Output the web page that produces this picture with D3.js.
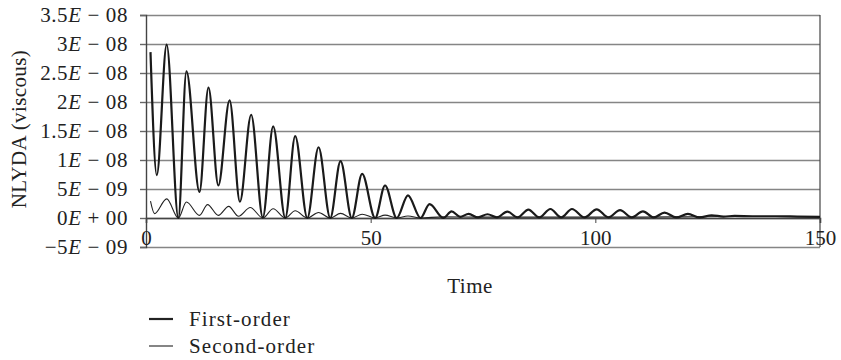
<!DOCTYPE html>
<html>
<head>
<meta charset="utf-8">
<script src="https://cdn.jsdelivr.net/npm/d3@7"></script>
<style>
  body { margin: 0; background: #fff; }
  text { font-family: "Liberation Serif", "DejaVu Serif", serif; fill: #222; }
</style>
</head>
<body>
<div id="chart"></div>
<script>
// first-order response, key points
const firstTime = [1, 2.4, 4.6, 7.2, 9.0, 11.9, 13.9, 16.1, 18.6, 20.9, 23.4, 26.0, 28.3, 31.0, 33.2, 35.9,
  38.4, 41.0, 43.3, 45.8, 48.1, 51.0, 53.2, 55.8, 58.3, 61.1, 63.1, 66.2, 68.0, 69.9, 71.8, 73.9, 76.0,
  78.1, 80.4, 82.7, 85.1, 87.5, 90.0, 92.4, 94.8, 97.6, 100.3, 102.9, 105.5, 108.1, 110.6, 113.0, 115.4,
  118.0, 120.6, 123.2, 125.9, 128.5, 131, 135, 140, 145, 150];
const firstValue = [28.6e-9, 7.4e-9, 29.9e-9, 0, 25.3e-9, 4.5e-9, 22.5e-9, 5.6e-9, 20.3e-9, 2.8e-9, 17.8e-9,
  0.1e-9, 15.8e-9, 0, 14.1e-9, 0, 12.2e-9, 0, 9.8e-9, 0, 7.6e-9, 0, 5.6e-9, 0, 3.9e-9, 0, 2.4e-9, 0,
  1.15e-9, 0.2e-9, 0.7e-9, 0.1e-9, 0.65e-9, 0.1e-9, 1.1e-9, 0.1e-9, 1.45e-9, 0.1e-9, 1.55e-9, 0.1e-9,
  1.55e-9, 0.1e-9, 1.5e-9, 0.1e-9, 1.35e-9, 0.1e-9, 1.15e-9, 0.1e-9, 0.93e-9, 0.1e-9, 0.7e-9, 0.1e-9,
  0.47e-9, 0.25e-9, 0.35e-9, 0.3e-9, 0.3e-9, 0.25e-9, 0.2e-9];

// second-order response
const secondTime = [1, 1.9, 4.6, 7.2, 9.0, 11.9, 13.7, 16.1, 18.4, 20.6, 23.2, 26.0, 28.3, 31.0, 33.2, 35.9,
  38.4, 41.0, 43.3, 45.8, 48.1, 51.0, 53.2, 55.8, 58.3, 61.1, 66, 75, 90, 100, 110, 120, 130, 140, 150];
const secondValue = [2.9e-9, 0.75e-9, 3.3e-9, 0, 2.75e-9, 0.45e-9, 2.3e-9, 0.45e-9, 2.0e-9, 0.3e-9, 1.8e-9,
  0, 1.6e-9, 0, 1.25e-9, 0, 0.95e-9, 0, 0.8e-9, 0, 0.65e-9, 0, 0.5e-9, 0, 0.35e-9, 0, 0.2e-9, 0.15e-9,
  0.15e-9, 0.15e-9, 0.15e-9, 0.2e-9, 0.25e-9, 0.25e-9, 0.2e-9];

const xTicks = [0, 50, 100, 150];
const yTicks = [3.5e-8, 3e-8, 2.5e-8, 2e-8, 1.5e-8, 1e-8, 5e-9, 0, -5e-9];
const yTickLabels = ['3.5E − 08', '3E − 08', '2.5E − 08', '2E − 08', '1.5E − 08', '1E − 08',
  '5E − 09', '0E + 00', '−5E − 09'];
const seriesNames = ['First-order', 'Second-order'];

const width = 841, height = 360;
const plot = {left: 146, right: 820, top: 15, bottom: 247};

const svg = d3.select('#chart')
  .append('svg')
  .attr('width', width)
  .attr('height', height);

const xScale = d3.scaleLinear().domain([0, 150]).range([plot.left, plot.right]);
const yScale = d3.scaleLinear().domain([-5e-9, 3.5e-8]).range([plot.bottom, plot.top]);

// gridlines
const grid = svg.append('g')
  .attr('transform', `translate(${plot.left},0)`)
  .call(d3.axisLeft(yScale).tickValues(yTicks).tickSize(-(plot.right - plot.left)).tickFormat(''));
grid.select('.domain').remove();
grid.selectAll('line').attr('stroke', '#858585').attr('stroke-width', 1.4);

// right border
svg.append('line')
  .attr('x1', plot.right).attr('x2', plot.right)
  .attr('y1', plot.top).attr('y2', plot.bottom)
  .attr('stroke', '#444').attr('stroke-width', 1.2);

// y axis
const yAxis = svg.append('g')
  .attr('transform', `translate(${plot.left},0)`)
  .call(d3.axisLeft(yScale).tickValues(yTicks).tickSize(6).tickPadding(12));
yAxis.select('.domain').attr('stroke', '#444').attr('stroke-width', 1.4);
yAxis.selectAll('line').attr('stroke', '#666').attr('stroke-width', 1.4);
yAxis.selectAll('text')
  .style('font-size', '21px')
  .style('letter-spacing', '0.6px')
  .attr('font-family', null)
  .each(function (d, i) {
    const parts = yTickLabels[i].split('E');
    const t = d3.select(this).text(null);
    t.append('tspan').text(parts[0]);
    t.append('tspan').attr('font-style', 'italic').text('E');
    t.append('tspan').text(parts[1]);
  });

// x axis on the zero line
const xAxis = svg.append('g')
  .attr('transform', `translate(0,${yScale(0)})`)
  .call(d3.axisBottom(xScale).tickValues(xTicks).tickSize(5));
xAxis.select('.domain').attr('stroke', '#444').attr('stroke-width', 1.6);
xAxis.selectAll('line').attr('stroke', '#444');
xAxis.selectAll('text')
  .attr('font-family', null)
  .style('font-size', '21px')
  .attr('y', 27).attr('dy', 0);

// series
const line = d3.line()
  .x(d => xScale(d[0]))
  .y(d => yScale(d[1]))
  .curve(d3.curveMonotoneX);

svg.append('path')
  .datum(d3.zip(secondTime, secondValue))
  .attr('d', line)
  .attr('fill', 'none')
  .attr('stroke', '#222')
  .attr('stroke-width', 1.1);

svg.append('path')
  .datum(d3.zip(firstTime, firstValue))
  .attr('d', line)
  .attr('fill', 'none')
  .attr('stroke', '#1a1a1a')
  .attr('stroke-width', 2.2);

// axis titles
svg.append('text')
  .attr('x', 470).attr('y', 293)
  .attr('text-anchor', 'middle')
  .style('font-size', '21px')
  .style('letter-spacing', '0.5px')
  .text('Time');

svg.append('text')
  .attr('transform', 'translate(26,129) rotate(-90)')
  .attr('text-anchor', 'middle')
  .style('font-size', '21px')
  .style('letter-spacing', '0.4px')
  .text('NLYDA (viscous)');

// legend
const legend = svg.append('g');
seriesNames.forEach((name, i) => {
  const yy = 319 + i * 27;
  legend.append('line')
    .attr('x1', 149).attr('x2', 173)
    .attr('y1', yy).attr('y2', yy)
    .attr('stroke', '#222')
    .attr('stroke-width', i === 0 ? 2.2 : 1.1);
  legend.append('text')
    .attr('x', 189).attr('y', yy + 6.5)
    .style('font-size', '21px')
    .style('letter-spacing', '1.1px')
    .text(name);
});
</script>
</body>
</html>
